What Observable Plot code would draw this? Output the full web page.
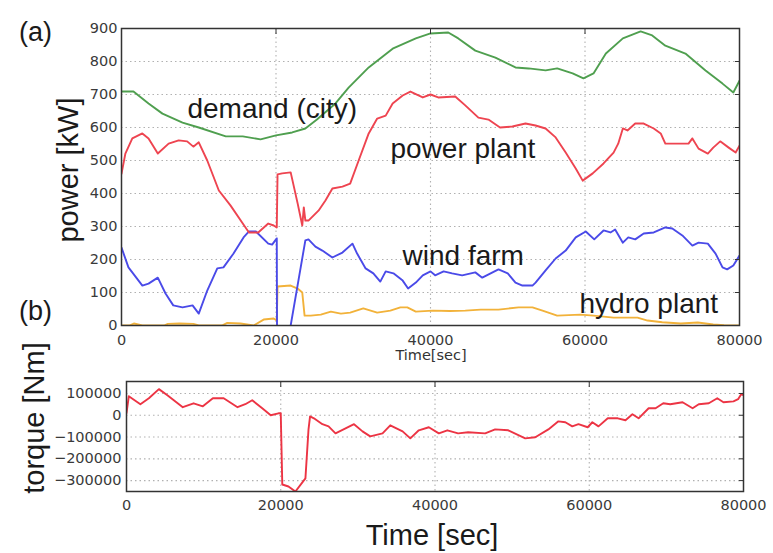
<!DOCTYPE html>
<html>
<head>
<meta charset="utf-8">
<script src="https://cdn.jsdelivr.net/npm/d3@7"></script>
<script src="https://cdn.jsdelivr.net/npm/@observablehq/plot@0.6"></script>
<style>
  html, body { margin: 0; padding: 0; background: #fff; }
  #wrap { position: relative; width: 773px; height: 553px; overflow: hidden; }
  #topPanel, #bottomPanel, #overlay { position: absolute; left: 0; }
  #topPanel { top: 0; }
  #bottomPanel { top: 370px; }
  #overlay { top: 0; pointer-events: none; }
</style>
</head>
<body>
<div id="wrap">
  <div id="topPanel"></div>
  <div id="bottomPanel"></div>
  <svg id="overlay" width="773" height="553" font-family="'Liberation Sans', Arial, sans-serif" fill="#1a1a1a">
    <text x="19" y="41" font-size="27">(a)</text>
    <text x="19" y="320" font-size="27">(b)</text>
    <text transform="translate(78,170) rotate(-90)" text-anchor="middle" font-size="29">power [kW]</text>
    <text transform="translate(44,418) rotate(-90)" text-anchor="middle" font-size="29">torque [Nm]</text>
    <text x="432" y="545" text-anchor="middle" font-size="29">Time [sec]</text>
    <text x="431" y="360" text-anchor="middle" font-size="14.5" font-family="'DejaVu Sans', sans-serif" fill="#333">Time[sec]</text>
  </svg>
</div>
<script>
// ---- data (time [s], value) ----
const timeTicks = [0, 20000, 40000, 60000, 80000];
const powerTicks = [0, 100, 200, 300, 400, 500, 600, 700, 800, 900];
const torqueTicks = [-300000, -200000, -100000, 0, 100000];

const demand = [
[0,709],[1550,709],[3500,673],[5300,642],[7900,615],[10000,600],[13500,573],[15700,573],[18000,564],[20000,576],[22100,585],[23800,597],[25300,624],[27700,673],[29400,721],[32000,782],[35100,839],[38100,870],[40000,885],[42300,888],[43600,870],[45800,833],[48400,812],[51000,782],[52700,779],[54900,773],[56400,779],[58400,764],[59800,749],[61100,764],[62700,824],[64900,870],[67200,891],[68700,879],[70400,848],[73000,824],[75600,773],[77800,733],[79200,706],[80000,742]
];
const powerPlant = [
[0,460],[500,521],[1400,567],[2700,582],[3500,567],[4700,521],[6100,551],[7400,561],[8500,558],[9300,542],[10000,555],[11100,500],[12600,409],[14100,364],[15700,309],[16500,282],[17700,282],[19000,309],[19700,303],[20100,297],[20200,458],[20800,461],[21900,464],[22800,370],[23400,303],[23600,358],[23800,318],[24200,318],[25500,348],[26400,379],[27300,415],[28600,421],[29600,430],[30700,500],[32000,582],[33100,627],[34200,636],[35100,673],[36400,697],[37400,709],[39000,691],[40000,700],[41000,691],[43200,694],[44500,667],[46200,630],[47500,624],[49000,600],[50600,603],[52300,612],[53600,606],[54900,597],[56200,570],[57500,524],[58800,476],[59700,439],[61000,461],[62400,491],[63700,524],[64300,551],[64900,597],[65500,591],[66500,612],[67600,612],[68900,597],[69800,582],[70400,551],[71700,551],[73400,551],[73900,567],[74700,536],[75900,521],[76600,539],[77500,558],[78600,539],[79500,524],[80000,545]
];
const windFarm = [
[0,236],[900,176],[2700,121],[3500,127],[4700,145],[5700,97],[6700,61],[7900,55],[9200,61],[10000,36],[11100,106],[12400,173],[13200,176],[14500,218],[15800,267],[16500,285],[17400,285],[19000,248],[19500,245],[20100,264],[20150,-150],[21500,-150],[21900,0],[23800,258],[24200,261],[25100,239],[26000,227],[27300,206],[28600,221],[29900,248],[30500,218],[31600,173],[32600,158],[33500,133],[34200,164],[35200,158],[36400,136],[37100,112],[38100,130],[39000,152],[40000,164],[40600,152],[41700,164],[42800,158],[44100,152],[45800,161],[46700,145],[48800,170],[50000,158],[51000,130],[51900,121],[53200,121],[53600,130],[54900,167],[56200,203],[57500,227],[58800,267],[60100,285],[61200,261],[62400,288],[63300,282],[63900,291],[64900,251],[65600,267],[66500,261],[67600,279],[68900,282],[70400,297],[71300,294],[72600,273],[73900,242],[74700,251],[75900,248],[76900,218],[77800,176],[78400,170],[79200,182],[80000,212]
];
const hydroPlant = [
[0,0],[1000,0],[1600,6],[2700,0],[5500,0],[6000,5],[7500,6],[9300,5],[10000,0],[13000,0],[13700,8],[15400,6],[17100,0],[18400,18],[19700,21],[20100,15],[20200,118],[21900,121],[22800,112],[23400,100],[23700,30],[24500,30],[25800,33],[27100,42],[28400,36],[29600,39],[31300,52],[33100,39],[34800,45],[36100,55],[37000,55],[38100,42],[40300,45],[42500,44],[44500,45],[46500,48],[48800,48],[51400,55],[53200,55],[54500,45],[56400,30],[59400,33],[61100,30],[63700,24],[66800,24],[68100,15],[70000,10],[72400,6],[74600,9],[76600,3],[78000,1],[80000,0]
];
const torque = [
[0,10000],[300,87000],[1800,50700],[2900,78000],[4200,120000],[5300,92000],[7300,37000],[8700,55000],[9900,41000],[11200,78000],[12600,78000],[14400,37000],[15400,50700],[16300,69000],[17600,32000],[18700,0],[19700,9000],[20000,9000],[20200,-318000],[21000,-327000],[21900,-350000],[23200,-290000],[23600,-65000],[23800,-5000],[24300,-14000],[25400,-41000],[26200,-51000],[27100,-83000],[28400,-60000],[29500,-41000],[30600,-74000],[31600,-97000],[33200,-83000],[34200,-46000],[35800,-74000],[36800,-106000],[37900,-69000],[39200,-55000],[40500,-83000],[41600,-69000],[43000,-83000],[44300,-78000],[46500,-83000],[47800,-65000],[49500,-69000],[51700,-106000],[53000,-101000],[54700,-65000],[56000,-28000],[56900,-32000],[57800,-51000],[58600,-41000],[59800,-55000],[60400,-32000],[61200,-51000],[62400,-14000],[63700,-14000],[64700,-23000],[65600,5000],[66400,-14000],[67700,32000],[68600,32000],[69600,55000],[70500,50700],[72100,60000],[73400,32000],[74200,50700],[75500,55000],[76600,78000],[77400,60000],[78700,64000],[79300,74000],[79700,97000],[80000,92000]
];
const seriesLabels = [
  {text: "demand (city)", t: 8540, v: 630},
  {text: "power plant", t: 34820, v: 509},
  {text: "wind farm", t: 36380, v: 182},
  {text: "hydro plant", t: 59290, v: 39}
];

const fmt = d3.format("d");
const noText = () => "";
const gridStyle = {stroke: "#a8a8a8", strokeOpacity: 0.9, strokeDasharray: "1.5,3", strokeWidth: 1.1};
const baseStyle = {fontFamily: "'DejaVu Sans', sans-serif", fontSize: "14.5px", color: "#3a3a3a", background: "transparent", overflow: "visible"};
const lineStyle = {strokeWidth: 1.9, strokeLinejoin: "round", strokeLinecap: "round", clip: true};
const X = d => d[0], Y = d => d[1];

function innerTicks(xTicks, yTicks) {
  const s = {tickSize: -5, tickFormat: noText, label: null, stroke: "#333"};
  return [
    Plot.axisX(xTicks, {anchor: "top", ...s}),
    Plot.axisY(yTicks, {anchor: "right", ...s})
  ];
}

const topChart = Plot.plot({
  width: 773, height: 370,
  marginLeft: 121, marginRight: 34, marginTop: 28, marginBottom: 45,
  style: baseStyle,
  x: {domain: [0, 80000]},
  y: {domain: [0, 900]},
  marks: [
    Plot.gridX(timeTicks.slice(1, -1), gridStyle),
    Plot.gridY(powerTicks.slice(1, -1), gridStyle),
    Plot.line(hydroPlant, {x: X, y: Y, stroke: "#f2b23a", ...lineStyle}),
    Plot.line(windFarm, {x: X, y: Y, stroke: "#4a4ae8", ...lineStyle}),
    Plot.line(powerPlant, {x: X, y: Y, stroke: "#ee4450", ...lineStyle}),
    Plot.line(demand, {x: X, y: Y, stroke: "#4f9f4f", ...lineStyle}),
    Plot.frame({stroke: "#333", strokeWidth: 1.5}),
    ...innerTicks(timeTicks.slice(1, -1), powerTicks.slice(1, -1)),
    Plot.axisX(timeTicks, {tickSize: 0, tickPadding: 9, tickFormat: fmt, label: null}),
    Plot.axisY(powerTicks, {tickSize: 0, tickPadding: 4, tickFormat: fmt, label: null}),
    Plot.text(seriesLabels, {x: "t", y: "v", text: "text", textAnchor: "start", lineAnchor: "bottom",
      fontSize: 28, fontFamily: "'Liberation Sans', Arial, sans-serif", fill: "#1a1a1a"})
  ]
});
document.getElementById("topPanel").appendChild(topChart);

const bottomChart = Plot.plot({
  width: 773, height: 183,
  marginLeft: 126, marginRight: 30, marginTop: 11, marginBottom: 62,
  style: baseStyle,
  x: {domain: [0, 80000]},
  y: {domain: [-350000, 155000]},
  marks: [
    Plot.gridX(timeTicks.slice(1, -1), gridStyle),
    Plot.gridY(torqueTicks, gridStyle),
    Plot.line(torque, {x: X, y: Y, stroke: "#ec3444", ...lineStyle}),
    Plot.frame({stroke: "#333", strokeWidth: 1.5}),
    ...innerTicks(timeTicks.slice(1, -1), torqueTicks),
    Plot.axisX(timeTicks, {tickSize: 0, tickPadding: 8, tickFormat: fmt, label: null}),
    Plot.axisY(torqueTicks, {tickSize: 0, tickPadding: 5, tickFormat: fmt, label: null})
  ]
});
document.getElementById("bottomPanel").appendChild(bottomChart);
</script>
</body>
</html>
